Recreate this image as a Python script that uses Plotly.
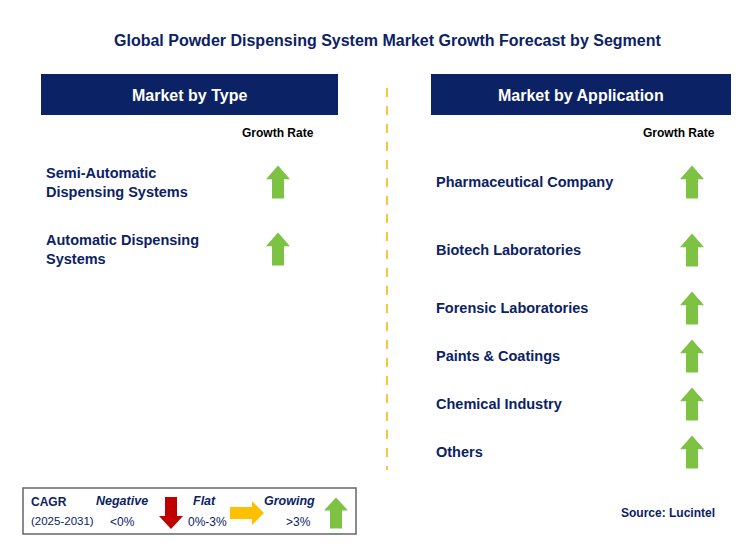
import plotly.graph_objects as go

title = "Global Powder Dispensing System Market Growth Forecast by Segment"
type_labels = ["Semi-Automatic<br>Dispensing Systems", "Automatic Dispensing<br>Systems"]
type_y = [182, 249]
app_labels = ["Pharmaceutical Company", "Biotech Laboratories", "Forensic Laboratories",
              "Paints & Coatings", "Chemical Industry", "Others"]
app_y = [182, 250, 308, 356, 404, 452]

NAVY = "#0b2265"
GREEN = "#7dc242"
FONT = "Arial, Liberation Sans"

fig = go.Figure()
shapes = []
ann = []


def up_arrow(cx, cy, color=GREEN, w=24, h=33):
    t, b = cy - h / 2, cy + h / 2
    hh = h * 0.42
    sw = w * 0.5
    p = (f"M {cx} {t} L {cx + w/2} {t + hh} L {cx + sw/2} {t + hh} L {cx + sw/2} {b} "
         f"L {cx - sw/2} {b} L {cx - sw/2} {t + hh} L {cx - w/2} {t + hh} Z")
    return dict(type="path", path=p, fillcolor=color, line=dict(width=0), layer="above")


def text(x, y, s, size=14, color=NAVY, bold=True, anchor="left", italic=False):
    if bold:
        s = f"<b>{s}</b>"
    if italic:
        s = f"<i>{s}</i>"
    ann.append(dict(x=x, y=y, text=s, showarrow=False, xanchor=anchor, yanchor="middle",
                    font=dict(family=FONT, size=size, color=color), align="left"))


text(387, 40, title, size=16, anchor="center")

# headers
shapes.append(dict(type="rect", x0=41, x1=338, y0=74, y1=115, fillcolor=NAVY, line=dict(width=0)))
shapes.append(dict(type="rect", x0=431, x1=731, y0=74, y1=115, fillcolor=NAVY, line=dict(width=0)))
text(189, 95, "Market by Type", size=16, color="white", anchor="center")
text(581, 95, "Market by Application", size=16, color="white", anchor="center")
text(278, 133, "Growth Rate", size=12, color="black", anchor="center")
text(679, 133, "Growth Rate", size=12, color="black", anchor="center")

# divider
shapes.append(dict(type="line", x0=387, x1=387, y0=88, y1=470,
                   line=dict(color="#f5b400", width=1.5, dash="dash")))

for lab, y in zip(type_labels, type_y):
    text(44, y, lab, size=14.5)
    shapes.append(up_arrow(278, y))
for lab, y in zip(app_labels, app_y):
    text(434, y, lab, size=14.5)
    shapes.append(up_arrow(692, y))

# legend box
shapes.append(dict(type="rect", x0=23, x1=356, y0=488, y1=534, fillcolor="white",
                   line=dict(color="#666666", width=1.5)))
text(29, 502, "CAGR", size=12)
text(29, 521, "(2025-2031)", size=11.5, bold=False)
text(122, 501, "Negative", size=12.5, anchor="center", italic=True)
text(122, 522, "&lt;0%", size=12, bold=False, anchor="center")
text(204, 501, "Flat", size=12.5, anchor="center", italic=True)
text(207, 522, "0%-3%", size=12, bold=False, anchor="center")
text(289, 501, "Growing", size=12.5, anchor="center", italic=True)
text(298, 522, "&gt;3%", size=12, bold=False, anchor="center")
# red down arrow
cx, t, b = 171, 497, 529
shapes.append(dict(type="path", path=(f"M {cx-6} {t} L {cx+6} {t} L {cx+6} {b-13} L {cx+12} {b-13} "
                                       f"L {cx} {b} L {cx-12} {b-13} L {cx-6} {b-13} Z"),
                   fillcolor="#c00000", line=dict(width=0)))
# yellow right arrow
l, r, cy = 230, 264, 513
shapes.append(dict(type="path", path=(f"M {l} {cy-6} L {r-12} {cy-6} L {r-12} {cy-12} L {r} {cy} "
                                       f"L {r-12} {cy+12} L {r-12} {cy+6} L {l} {cy+6} Z"),
                   fillcolor="#ffc000", line=dict(width=0)))
shapes.append(up_arrow(336, 513, w=24, h=31))

text(717, 513, "Source: Lucintel", size=12, anchor="right")

# page has an 8px body margin, so offset the ranges to keep pixel coordinates
fig.update_layout(
    width=740, height=551, margin=dict(l=0, r=0, t=0, b=0),
    plot_bgcolor="white", paper_bgcolor="white", showlegend=False,
    xaxis=dict(range=[8, 748], visible=False, fixedrange=True),
    yaxis=dict(range=[559, 8], visible=False, fixedrange=True),
    shapes=shapes, annotations=ann,
)
fig.write_html("out.html")
